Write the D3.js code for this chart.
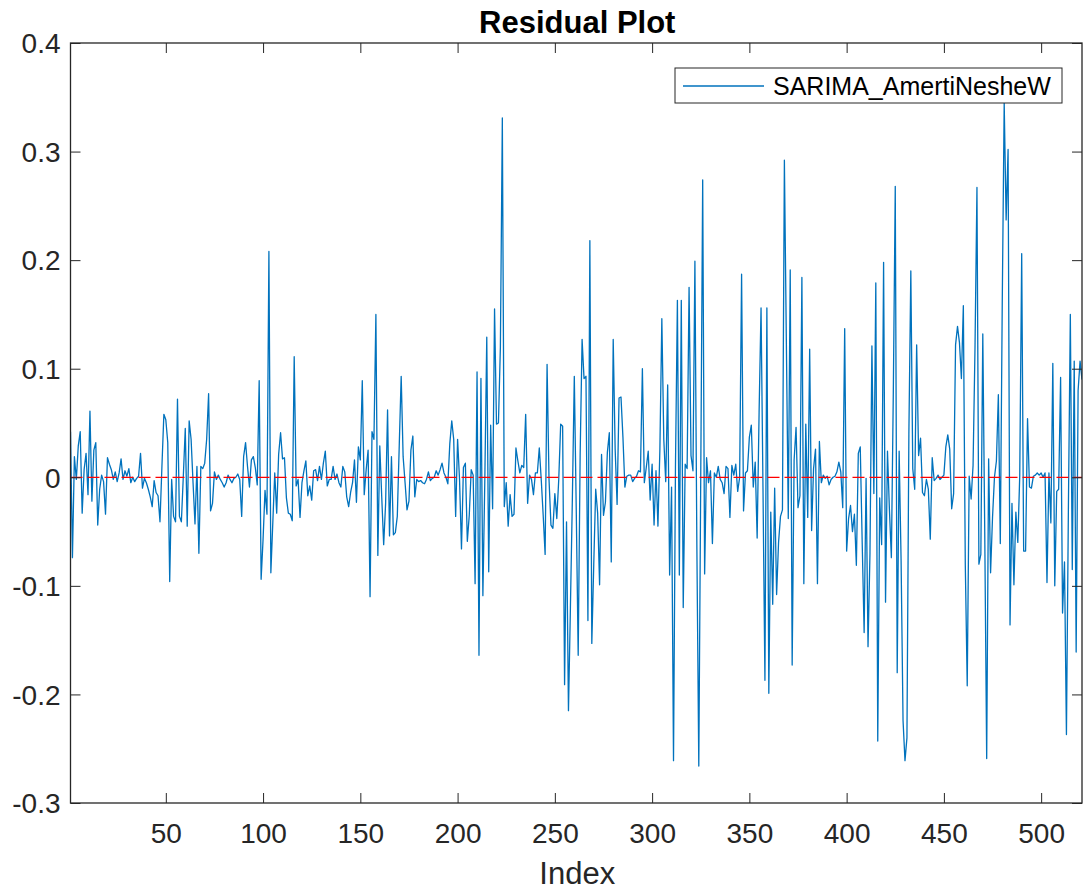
<!DOCTYPE html>
<html>
<head>
<meta charset="utf-8">
<script src="https://cdn.jsdelivr.net/npm/d3@7"></script>
<style>
  html, body { margin: 0; padding: 0; background: #fff; }
  svg { display: block; }
  text { font-family: "Liberation Sans", Arial, Helvetica, sans-serif; }
</style>
</head>
<body>
<svg id="chart" width="1083" height="893"></svg>
<script>
// Residuals of the SARIMA model, one value per observation index (1..521)
const residuals = [
  0.042, -0.074, 0.019, -0.002, 0.029, 0.042, -0.033, 0.007, 0.022, -0.016,
  0.061, -0.022, 0.025, 0.032, -0.044, -0.011, 0.002, -0.004, -0.034, 0.018,
  0.012, 0.007, -0.002, 0.005, -0.004, 0.004, 0.017, -0.002, 0.006, 0.001,
  0.008, -0.005, 0.000, -0.004, -0.001, 0.001, 0.022, -0.010, -0.001, -0.005,
  -0.011, -0.018, -0.027, -0.003, -0.014, -0.017, -0.041, 0.010, 0.058, 0.053,
  0.032, -0.096, -0.002, -0.036, -0.041, 0.072, -0.036, -0.041, 0.001, 0.045,
  -0.045, 0.052, 0.035, -0.005, -0.043, 0.010, -0.070, 0.010, 0.008, 0.013,
  0.035, 0.077, -0.031, -0.024, 0.005, -0.002, 0.002, -0.002, -0.005, -0.009,
  -0.005, 0.002, -0.002, -0.005, -0.001, 0.000, 0.003, -0.002, -0.036, 0.019,
  0.032, 0.010, -0.009, 0.016, 0.019, 0.009, -0.007, 0.089, -0.094, -0.057,
  -0.012, -0.034, 0.208, -0.088, -0.042, 0.004, -0.033, 0.021, 0.041, 0.017,
  0.018, -0.019, -0.033, -0.034, -0.040, 0.111, -0.008, -0.002, -0.037, -0.005,
  0.006, 0.015, -0.017, -0.008, -0.021, 0.006, 0.007, -0.003, 0.010, -0.002,
  0.013, 0.024, -0.008, -0.002, -0.002, 0.010, -0.002, 0.003, -0.005, -0.009,
  0.010, 0.005, -0.018, -0.027, -0.014, -0.005, 0.016, -0.023, 0.028, 0.016,
  0.089, -0.016, 0.007, 0.025, -0.110, 0.042, 0.035, 0.150, -0.072, 0.029,
  -0.018, -0.062, -0.024, 0.062, -0.054, 0.019, -0.053, -0.051, -0.036, 0.029,
  0.093, 0.019, -0.005, -0.030, -0.022, 0.025, 0.038, -0.018, -0.002, -0.004,
  -0.003, -0.005, -0.006, -0.002, 0.005, -0.003, -0.001, 0.000, 0.006, 0.002,
  0.007, 0.013, 0.004, 0.000, -0.006, 0.031, 0.052, 0.035, -0.036, 0.035,
  -0.002, -0.066, 0.009, 0.013, -0.059, -0.035, 0.007, 0.002, -0.098, 0.097,
  -0.164, 0.091, -0.109, -0.002, 0.129, -0.087, 0.048, -0.029, 0.155, 0.049,
  0.050, 0.120, 0.331, -0.027, -0.005, -0.045, -0.016, -0.036, -0.034, 0.027,
  0.015, 0.004, 0.011, 0.009, 0.058, -0.024, 0.002, -0.002, -0.016, 0.004,
  0.004, 0.027, -0.002, -0.035, -0.071, 0.104, -0.002, -0.044, -0.047, -0.015,
  -0.038, -0.002, 0.049, 0.047, -0.191, -0.041, -0.215, -0.120, -0.020, 0.093,
  -0.030, -0.164, 0.020, 0.127, 0.091, 0.093, -0.132, 0.218, -0.153, -0.080,
  -0.011, -0.033, -0.099, 0.021, -0.035, -0.023, 0.023, 0.041, -0.078, 0.127,
  0.026, -0.025, 0.073, 0.074, 0.037, -0.009, 0.001, 0.002, 0.002, -0.004,
  -0.001, 0.001, 0.006, 0.005, 0.100, -0.005, 0.009, 0.024, -0.021, 0.012,
  -0.044, 0.006, -0.045, 0.026, 0.146, 0.035, -0.004, 0.085, -0.090, -0.009,
  -0.261, 0.009, 0.163, -0.090, 0.163, -0.120, 0.012, 0.008, 0.175, 0.020,
  0.006, 0.199, -0.062, -0.266, 0.000, 0.274, -0.089, 0.018, -0.005, 0.006,
  -0.061, 0.004, 0.000, 0.010, -0.002, -0.005, -0.015, 0.010, 0.008, -0.037,
  0.011, 0.002, 0.012, -0.013, 0.000, 0.187, -0.031, 0.004, 0.006, 0.037,
  0.048, -0.009, 0.014, -0.056, 0.060, 0.156, -0.010, -0.187, 0.156, -0.199,
  -0.032, -0.117, -0.010, -0.108, -0.060, -0.036, -0.030, 0.292, 0.127, -0.038,
  0.191, -0.173, 0.016, 0.046, -0.028, -0.017, 0.184, -0.098, 0.049, -0.037,
  0.118, -0.049, 0.008, 0.026, -0.098, 0.033, -0.005, 0.002, -0.001, 0.001,
  -0.007, -0.002, 0.000, 0.001, 0.005, 0.014, 0.005, -0.028, 0.137, -0.068,
  -0.038, -0.026, -0.050, -0.034, -0.081, 0.022, 0.028, -0.060, -0.143, -0.001,
  -0.156, -0.070, 0.121, -0.015, 0.179, -0.243, -0.019, -0.062, 0.198, -0.115,
  0.024, -0.030, -0.074, 0.078, 0.268, -0.180, 0.024, -0.077, -0.224, -0.261,
  -0.240, 0.040, 0.190, 0.008, -0.011, 0.122, 0.020, 0.036, -0.014, -0.017,
  -0.002, -0.011, -0.057, 0.018, -0.003, -0.001, 0.002, -0.002, 0.000, 0.002,
  0.028, 0.039, 0.026, -0.029, -0.015, 0.122, 0.139, 0.124, 0.091, 0.158,
  -0.080, -0.192, 0.001, -0.020, 0.011, 0.120, 0.267, -0.080, -0.071, 0.132,
  -0.050, -0.259, 0.017, -0.088, -0.037, 0.000, 0.015, 0.076, -0.061, 0.160,
  0.345, 0.237, 0.302, -0.136, -0.024, -0.099, -0.032, -0.060, 0.002, 0.206,
  -0.068, -0.068, 0.054, -0.009, -0.010, 0.001, 0.002, 0.004, 0.002, 0.004,
  0.000, 0.004, -0.097, 0.004, -0.042, 0.105, -0.100, -0.013, -0.011, 0.092,
  -0.125, -0.078, -0.237, -0.030, 0.150, -0.085, 0.107, -0.161, 0.080, 0.107,
  0.090
];

const xTicks = [50, 100, 150, 200, 250, 300, 350, 400, 450, 500];
const yTicks = [-0.3, -0.2, -0.1, 0, 0.1, 0.2, 0.3, 0.4];
const seriesName = "SARIMA_AmertiNesheW";
const titleText = "Residual Plot";
const xLabelText = "Index";

const svg = d3.select("#chart");
const margin = { left: 70.5, right: 1082, top: 43, bottom: 803 };

const x = d3.scaleLinear().domain([1, residuals.length]).range([margin.left, margin.right]);
const y = d3.scaleLinear().domain([-0.3, 0.4]).range([margin.bottom, margin.top]);

const axisColor = "#262626";
const tickLen = 10;
const tickFont = 28;
const legendFont = 25;
const labelFont = 31;

// ASCII hyphen for negatives, plain "0" at the origin
const fmtY = d => d === 0 ? "0" : (d < 0 ? "-" : "") + Math.abs(d).toFixed(1);

// clip for data
svg.append("defs").append("clipPath").attr("id", "plotClip")
  .append("rect")
  .attr("x", margin.left).attr("y", margin.top)
  .attr("width", margin.right - margin.left).attr("height", margin.bottom - margin.top);

// residual series
const line = d3.line().x((d, i) => x(i + 1)).y(d => y(d));
svg.append("path")
  .datum(residuals)
  .attr("clip-path", "url(#plotClip)")
  .attr("fill", "none")
  .attr("stroke", "#0072BD")
  .attr("stroke-width", 1.3)
  .attr("stroke-linejoin", "round")
  .attr("d", line);

// zero reference line
svg.append("line")
  .attr("x1", margin.left).attr("x2", margin.right)
  .attr("y1", y(0)).attr("y2", y(0))
  .attr("stroke", "#FF0000")
  .attr("stroke-width", 1.2)
  .attr("stroke-dasharray", "12,5");

// axes: bottom & left with inward ticks, mirrored on top & right
// (with inward ticks the label offset equals tickPadding)
const gx = svg.append("g").attr("transform", `translate(0,${margin.bottom})`)
  .call(d3.axisBottom(x).tickValues(xTicks).tickSize(-tickLen).tickPadding(20).tickFormat(d3.format("d")));
const gxTop = svg.append("g").attr("transform", `translate(0,${margin.top})`)
  .call(d3.axisTop(x).tickValues(xTicks).tickSize(-tickLen).tickFormat(""));
const gy = svg.append("g").attr("transform", `translate(${margin.left},0)`)
  .call(d3.axisLeft(y).tickValues(yTicks).tickSize(-tickLen).tickPadding(10).tickFormat(fmtY));
const gyRight = svg.append("g").attr("transform", `translate(${margin.right},0)`)
  .call(d3.axisRight(y).tickValues(yTicks).tickSize(-tickLen).tickFormat(""));

[gx, gxTop, gy, gyRight].forEach(g => {
  g.select(".domain").remove();
  g.selectAll(".tick line").attr("stroke", axisColor).attr("stroke-width", 1);
  g.selectAll(".tick text")
    .attr("fill", axisColor)
    .style("font-size", tickFont + "px")
    .style("font-family", '"Liberation Sans", Arial, sans-serif');
});
gy.selectAll(".tick text").attr("dy", "0.35em");

// frame box
svg.append("rect")
  .attr("x", margin.left).attr("y", margin.top)
  .attr("width", margin.right - margin.left).attr("height", margin.bottom - margin.top)
  .attr("fill", "none").attr("stroke", axisColor).attr("stroke-width", 1.3);

// title
svg.append("text")
  .attr("x", (margin.left + margin.right) / 2 + 1)
  .attr("y", 33)
  .attr("text-anchor", "middle")
  .attr("fill", "#000")
  .style("font-size", labelFont + "px")
  .style("font-weight", "bold")
  .text(titleText);

// x label
svg.append("text")
  .attr("x", (margin.left + margin.right) / 2 + 1)
  .attr("y", 884)
  .attr("text-anchor", "middle")
  .attr("fill", axisColor)
  .style("font-size", labelFont + "px")
  .text(xLabelText);

// legend
const legend = svg.append("g").attr("transform", "translate(675,68)");
legend.append("rect")
  .attr("width", 387).attr("height", 35)
  .attr("fill", "#fff").attr("stroke", axisColor).attr("stroke-width", 1);
legend.append("line")
  .attr("x1", 8).attr("x2", 89).attr("y1", 18).attr("y2", 18)
  .attr("stroke", "#0072BD").attr("stroke-width", 1.3);
legend.append("text")
  .attr("x", 98).attr("y", 27)
  .attr("fill", "#000")
  .style("font-size", legendFont + "px")
  .text(seriesName);
</script>
</body>
</html>
